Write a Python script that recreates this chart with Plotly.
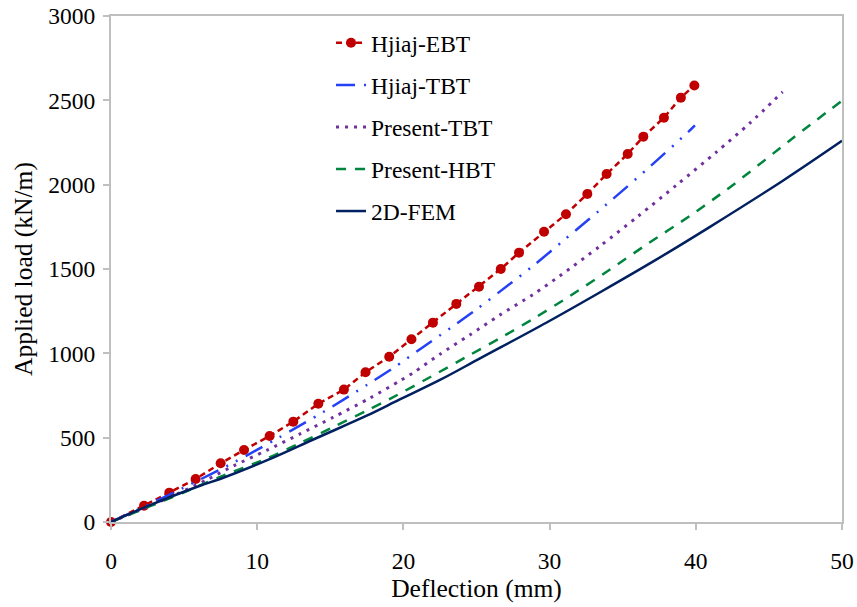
import plotly.graph_objects as go

# ---- data ----
ebt_x = [0, 2.26, 3.99, 5.79, 7.50, 9.10, 10.85, 12.47, 14.18, 15.93, 17.41, 19.03, 20.55,
         22.02, 23.62, 25.17, 26.66, 27.91, 29.62, 31.12, 32.58, 33.90, 35.34, 36.41, 37.82,
         38.98, 39.90]
ebt_y = [0, 96, 174, 255, 348, 427, 510, 595, 701, 785, 888, 980, 1083,
         1182, 1293, 1395, 1500, 1597, 1721, 1825, 1945, 2063, 2182, 2284, 2397,
         2516, 2588]

tbt_x = [0, 2.5, 5.0, 8.46, 11.47, 14.52, 17.49, 19.27, 21.48, 23.28, 25.01, 27.18, 28.82,
         31.05, 34.22, 36.89, 39.45, 39.94]
tbt_y = [0, 100, 205, 356, 500, 652, 812, 911, 1045, 1154, 1261, 1405, 1515,
         1676, 1907, 2109, 2310, 2352]

ptbt_x = [0, 2.5, 4.49, 6.66, 8.37, 10.65, 12.93, 15.2, 17.72, 19.72, 20.68, 22.5, 24.56,
          26.61, 28.89, 30.71, 33.45, 36.07, 38.69, 41.43, 43.7, 45.94]
ptbt_y = [0, 90, 165, 255, 332, 425, 522, 621, 735, 835, 885, 995, 1110,
          1228, 1350, 1460, 1636, 1814, 1998, 2195, 2365, 2550]

hbt_x = [0, 2.5, 5.0, 7.46, 10.65, 12.93, 15.2, 17.49, 19.08, 22.27, 24.33, 26.61, 28.89,
         31.39, 34.13, 36.75, 39.6, 41.55, 42.57, 46.67, 50]
hbt_y = [0, 88, 176, 268, 376, 468, 563, 660, 730, 880, 980, 1090, 1205,
         1340, 1497, 1652, 1815, 1935, 2000, 2278, 2498]

fem_x = [0, 2.67, 6.09, 7.46, 10.65, 14.07, 17.49, 19.72, 22.5, 25.24, 29.8, 33.45, 37.09,
         40.97, 45.98, 50]
fem_y = [0, 100, 215, 255, 365, 498, 630, 725, 842, 970, 1183, 1362, 1545,
         1750, 2025, 2260]

x_ticks = [0, 10, 20, 30, 40, 50]
y_ticks = [0, 500, 1000, 1500, 2000, 2500, 3000]

FONT = "Liberation Serif, Times New Roman, serif"

fig = go.Figure()

fig.add_trace(go.Scatter(
    x=ebt_x, y=ebt_y, name="Hjiaj-EBT", mode="lines+markers",
    line=dict(color="#C00000", width=2.5, dash="6px,4px"),
    marker=dict(color="#C00000", size=10, symbol="circle"),
    cliponaxis=False, legendgroup="a"))

fig.add_trace(go.Scatter(
    x=tbt_x, y=tbt_y, name="Hjiaj-TBT", mode="lines",
    line=dict(color="#2441F5", width=2.5, dash="19px,9px,2px,9px,2px,9px",
              shape="spline", smoothing=0.8),
    legendgroup="b"))

fig.add_trace(go.Scatter(
    x=ptbt_x, y=ptbt_y, name="Present-TBT", mode="lines",
    line=dict(color="#7030A0", width=3, dash="3px,6px",
              shape="spline", smoothing=0.8),
    legendgroup="c"))

fig.add_trace(go.Scatter(
    x=hbt_x, y=hbt_y, name="Present-HBT", mode="lines",
    line=dict(color="#00853E", width=2.5, dash="10px,9px",
              shape="spline", smoothing=0.8),
    legendgroup="d"))

fig.add_trace(go.Scatter(
    x=fem_x, y=fem_y, name="2D-FEM", mode="lines",
    line=dict(color="#002060", width=2.5, shape="spline", smoothing=1.0),
    legendgroup="e"))

axis_common = dict(
    showgrid=False, zeroline=False, showline=True, linecolor="#BFBFBF", linewidth=2,
    mirror=True, ticks="outside", ticklen=6, tickwidth=2, tickcolor="#BFBFBF",
    tickfont=dict(family=FONT, size=23.5, color="black"), automargin=False,
)

fig.update_xaxes(range=[0, 50], tickvals=x_ticks, ticklabelstandoff=11,
                 title=dict(text="Deflection (mm)", font=dict(family=FONT, size=25.5, color="black"),
                            standoff=3),
                 **axis_common)
fig.update_yaxes(range=[0, 3000], tickvals=y_ticks, ticklabelstandoff=3,
                 title=dict(text="Applied load (kN/m)", font=dict(family=FONT, size=25.5, color="black"),
                            standoff=8),
                 **axis_common)

fig.update_layout(
    width=857, height=607,
    margin=dict(l=111, r=15, t=16, b=85),
    paper_bgcolor="white", plot_bgcolor="white",
    font=dict(family=FONT, size=23.5, color="black"),
    showlegend=True,
    legend=dict(x=0.301, y=0.99, xanchor="left", yanchor="top",
                bgcolor="rgba(255,255,255,0)", borderwidth=0,
                font=dict(family=FONT, size=23.5, color="black"),
                tracegroupgap=8.5, itemwidth=30),
)

fig.write_html("out.html")
